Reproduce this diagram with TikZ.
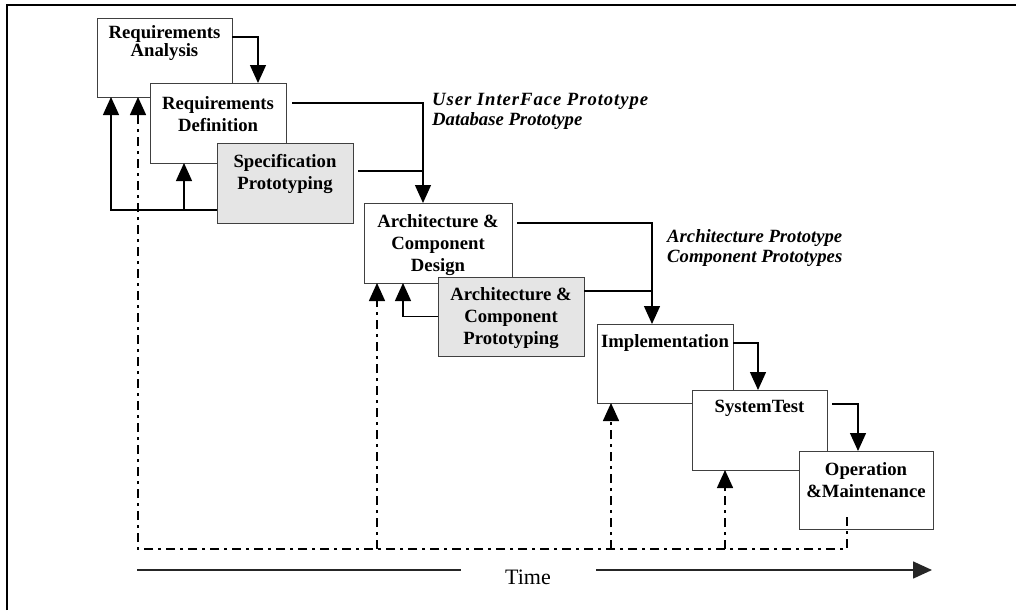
\documentclass[tikz,border=0pt]{standalone}
\usepackage{fontspec}
\setmainfont{Liberation Serif}
\usetikzlibrary{arrows.meta}
\begin{document}
\begin{tikzpicture}[x=1pt,y=-1pt,
  box/.style={draw=black!75, line width=0.9pt, fill=white, anchor=north west, inner sep=0pt, outer sep=0pt},
  pbox/.style={box, fill=black!10},
  txt/.style={font=\fontsize{18.7}{22}\selectfont\bfseries, align=center, inner sep=0pt},
  note/.style={font=\fontsize{18.7}{20}\selectfont\bfseries\itshape, align=left, inner sep=0pt, anchor=west},
  conn/.style={line width=1.3pt},
  arr/.style={conn, -{Triangle[length=18pt,width=16pt]}},
  dd/.style={line width=1.5pt, dash pattern=on 9pt off 5pt on 3pt off 5pt},
  ddarr/.style={dd, -{Triangle[length=18pt,width=16pt]}},
]
\useasboundingbox (0,0) rectangle (1016,610);
% frame
\draw[line width=2.5pt] (7,610) -- (7,5) -- (1016,5);

% boxes
\node[box, minimum width=135pt, minimum height=79pt] (ra) at (97,18) {};
\node[box, minimum width=136pt, minimum height=80pt] (rd) at (150,83) {};
\node[pbox, minimum width=136pt, minimum height=80pt] (sp) at (217,143) {};
\node[box, minimum width=148pt, minimum height=80pt] (acd) at (364,203) {};
\node[pbox, minimum width=146pt, minimum height=79pt] (acp) at (438,277) {};
\node[box, minimum width=136pt, minimum height=79pt] (impl) at (597,324) {};
\node[box, minimum width=135pt, minimum height=80pt] (st) at (692,390) {};
\node[box, minimum width=134pt, minimum height=78pt] (om) at (799,451) {};

% box texts
\node[txt, font=\fontsize{18.7}{18.5}\selectfont\bfseries] (ra-t) at (164.5,43) {Requirements\\Analysis};
\node[txt] (rd-t) at (218,114) {Requirements\\Definition};
\node[txt] (sp-t) at (285,173.5) {Specification\\Prototyping};
\node[txt] (acd-t) at (438,245) {Architecture \&\\Component\\Design};
\node[txt] (acp-t) at (511,318) {Architecture \&\\Component\\Prototyping};
\node[txt] (impl-t) at (665,342.5) {Implementation};
\node[txt] (st-t) at (759.5,408.5) {SystemTest};
\node[txt] (om-t) at (866,480.5) {Operation\\\&Maintenance};

% italic notes
\node[note] (n1) at (432,111) {{\addfontfeature{LetterSpace=5}User InterFace Prototype}\\Database Prototype};
\node[note] (n2) at (667,248.5) {Architecture Prototype\\Component Prototypes};

% forward connectors
\draw[arr] ([yshift=20.5pt]ra.east) -| ([xshift=40pt]rd.north);
\coordinate (j1) at ([xshift=-15pt]acd.north);
\draw[arr] ([xshift=6pt,yshift=20pt]rd.east) -| (j1);
\draw[conn] ([xshift=5pt,yshift=12pt]sp.east) coordinate (s3) -- (s3 -| j1);
\coordinate (j2) at ([xshift=-13pt]impl.north);
\draw[arr] ([xshift=5pt,yshift=20pt]acd.east) -| (j2);
\draw[conn] ([yshift=25.5pt]acp.east) coordinate (s5) -- (s5 -| j2);
\draw[arr] ([yshift=20.5pt]impl.east) -| ([xshift=-1.5pt]st.north);
\draw[arr] ([xshift=5pt,yshift=26pt]st.east) -| ([xshift=-8pt]om.north);

% feedback (solid)
\coordinate (b1) at ([yshift=-27pt]sp.west);
\draw[arr] (b1) -| ([xshift=-53.5pt]ra.south);
\coordinate (k1) at ([xshift=-34pt]rd.south);
\draw[arr] (b1 -| k1) -- (k1);
\draw[arr] (acp.west) -| ([xshift=-35pt]acd.south);

% feedback (dash-dot)
\coordinate (base) at (0,549);
\coordinate (omd) at ([xshift=-19pt,yshift=12pt]om.south);
\coordinate (raf) at ([xshift=-26.5pt]ra.south);
\draw[ddarr] (omd) |- (base -| raf) -- (raf);
\coordinate (acdf) at ([xshift=-61pt]acd.south);
\draw[ddarr] (base -| acdf) -- (acdf);
\coordinate (implf) at ([xshift=-54pt]impl.south);
\draw[ddarr] (base -| implf) -- (implf);
\coordinate (stf) at ([xshift=-34.5pt]st.south);
\draw[ddarr] (base -| stf) -- (stf);

% time axis
\node[font=\fontsize{22}{24}\selectfont, inner sep=0pt] (time) at (528,577) {Time};
\coordinate (t0) at (137,570);
\coordinate (t1) at (461,570);
\coordinate (t2) at (596,570);
\coordinate (t3) at (932,570);
\draw[line width=1.6pt, draw=black!85] (t0) -- (t1);
\draw[line width=1.6pt, draw=black!85, -{Triangle[length=19pt,width=17pt]}] (t2) -- (t3);
\end{tikzpicture}
\end{document}
